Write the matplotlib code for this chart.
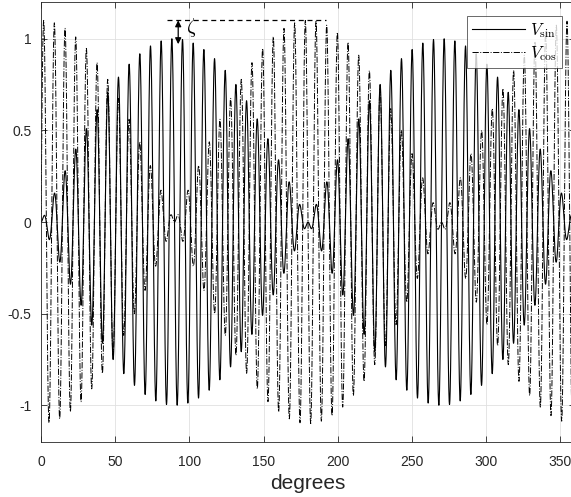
import numpy as np
import matplotlib
matplotlib.use("Agg")
import matplotlib.pyplot as plt

plt.rcParams["font.family"] = ["Liberation Sans", "DejaVu Sans"]
plt.rcParams["mathtext.fontset"] = "cm"
plt.rcParams["axes.unicode_minus"] = False

# Resolver output model: carrier modulated by sin/cos of rotor angle
amp_sin = 1.0          # peak of V_sin envelope
amp_cos = 1.1          # peak of V_cos envelope (amplitude imbalance)
carrier_cycles = 50    # carrier periods per mechanical revolution
step_deg = 0.02

x_ticks = [0, 50, 100, 150, 200, 250, 300, 350]
y_ticks = [-1, -0.5, 0, 0.5, 1]
y_tick_labels = ["-1", "-0.5", "0", "0.5", "1"]

theta = np.arange(0.0, 360.0 + step_deg, step_deg)
rad = np.deg2rad(theta)
carrier = np.sin(carrier_cycles * rad)
v_sin = amp_sin * np.sin(rad) * carrier
v_cos = amp_cos * np.cos(rad) * carrier

fig = plt.figure(figsize=(5.71, 4.97), dpi=100)
ax = fig.add_axes([41 / 571, 55 / 497, 534 / 571, 440 / 497])

ax.plot(theta, v_sin, color="black", lw=0.8, ls="-", label=r"$V_{\rm sin}$")
ax.plot(theta, v_cos, color="black", lw=0.7, ls="-.", label=r"$V_{\rm cos}$")

ax.set_xlim(0, 360)
ax.set_ylim(-1.2, 1.2)
ax.set_xticks(x_ticks)
ax.set_yticks(y_ticks)
ax.set_yticklabels(y_tick_labels)
ax.grid(True, color="#e0e0e0", lw=0.6)
ax.set_axisbelow(True)

ax.tick_params(direction="in", top=True, right=True, length=4, width=0.6,
               colors="#262626", labelsize=10)
ax.tick_params(axis="x", pad=9)
ax.tick_params(axis="y", pad=7)
for sp in ax.spines.values():
    sp.set_color("#262626")
    sp.set_linewidth(0.6)

ax.set_xlabel("degrees", fontsize=15, color="#262626", labelpad=4)

# amplitude imbalance marker
ax.plot([85, 192], [amp_cos, amp_cos], color="black", lw=0.9, ls=(0, (4, 3)))
ax.annotate("", xy=(92.5, 0.97), xytext=(92.5, amp_cos),
            arrowprops=dict(arrowstyle="<|-|>", color="black", lw=0.9,
                            mutation_scale=9, shrinkA=0, shrinkB=0))
ax.text(102, 1.06, r"$\zeta$", fontsize=15, ha="center", va="center")

leg = ax.legend(loc="upper right", bbox_to_anchor=(0.976, 0.968),
                fontsize=12, frameon=True, fancybox=False, edgecolor="#262626",
                handlelength=3.2, borderpad=0.3, labelspacing=0.25,
                handletextpad=0.3, borderaxespad=0)
leg.get_frame().set_linewidth(0.6)

fig.savefig("out.png", dpi=100)
